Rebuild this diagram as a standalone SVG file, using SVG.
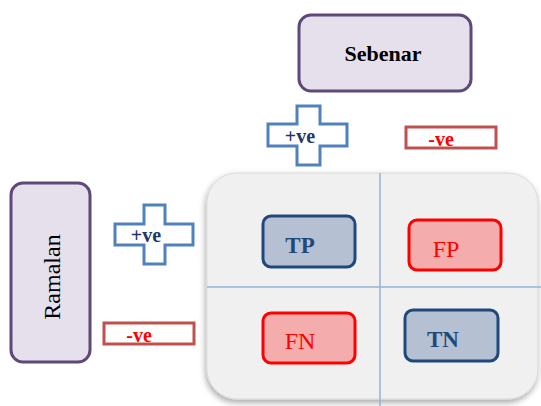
<svg xmlns="http://www.w3.org/2000/svg" width="541" height="406" viewBox="0 0 541 406">
<style>
.hdr{fill:#e5e0ec;stroke:#5f497a;stroke-width:3}
.cross{fill:#ffffff;stroke:#4f81bd;stroke-width:3}
.neg{fill:#ffffff;stroke:#c0504d;stroke-width:3}
.tbox{fill:#b5c1d3;stroke:#1f497d;stroke-width:3}
.fbox{fill:#f4acac;stroke:#ff0000;stroke-width:3}
.grid{stroke:#95b3d7;stroke-width:1.5}
text{font-family:"Liberation Serif","Times New Roman",serif}
.pos{fill:#1f3864;font-size:20px;font-weight:bold}
.negt{fill:#ff0000;font-size:20px;font-weight:bold}
.tt{fill:#1f497d;font-size:23px;font-weight:bold;text-anchor:middle}
.ft{fill:#ff0000;font-size:24px;text-anchor:middle}
</style>
<defs>
<filter id="sh" x="-10%" y="-10%" width="120%" height="130%">
<feDropShadow dx="-1" dy="3" stdDeviation="3" flood-color="#000" flood-opacity="0.35"/>
</filter>
</defs>
<g id="panel">
<rect x="207" y="173" width="331" height="226" rx="30" fill="#f0f0f0" stroke="#d9d9d9" stroke-width="1" filter="url(#sh)"/>
</g>
<g id="connectors">
<line class="grid" x1="380" y1="173" x2="380" y2="406"/>
<line class="grid" x1="207" y1="287" x2="541" y2="287"/>
</g>
<g id="sebenar">
<rect class="hdr" x="299" y="15" width="172" height="76" rx="12"/>
<text x="383" y="61" text-anchor="middle" font-size="22" font-weight="bold" fill="#000">Sebenar</text>
</g>
<g id="ramalan">
<rect class="hdr" x="11" y="183" width="79" height="179" rx="12"/>
<text transform="translate(60,277) rotate(-90)" text-anchor="middle" font-size="24" fill="#000">Ramalan</text>
</g>
<g id="pos-top">
<path class="cross" d="M297,106H320V124H347V146H320V165H297V146H268V124H297Z"/>
<text class="pos" x="300" y="143" text-anchor="middle">+ve</text>
</g>
<g id="neg-top">
<rect class="neg" x="406" y="127" width="90" height="21"/>
<text class="negt" x="441" y="146" text-anchor="middle">-ve</text>
</g>
<g id="pos-left">
<path class="cross" d="M144,205H165V224H193V245H165V264H144V245H115V224H144Z"/>
<text class="pos" x="146" y="242" text-anchor="middle">+ve</text>
</g>
<g id="neg-left">
<rect class="neg" x="104" y="323" width="90" height="21"/>
<text class="negt" x="139" y="342" text-anchor="middle">-ve</text>
</g>
<g id="tp">
<rect class="tbox" x="263" y="216" width="92" height="51" rx="8"/>
<text class="tt" x="300" y="253">TP</text>
</g>
<g id="fp">
<rect class="fbox" x="409" y="220" width="92" height="50" rx="8"/>
<text class="ft" x="446" y="257">FP</text>
</g>
<g id="fn">
<rect class="fbox" x="263" y="313" width="92" height="50" rx="8"/>
<text class="ft" x="300" y="349">FN</text>
</g>
<g id="tn">
<rect class="tbox" x="405" y="310" width="93" height="51" rx="8"/>
<text class="tt" x="443" y="347">TN</text>
</g>
</svg>
